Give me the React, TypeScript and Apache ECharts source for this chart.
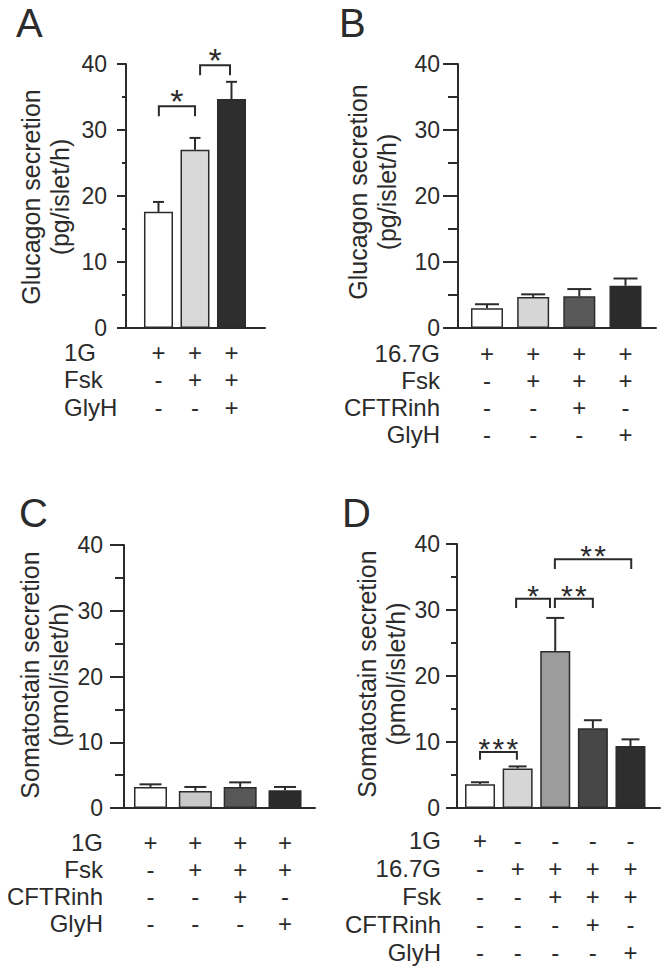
import React, { useEffect, useRef } from "react";
import * as echarts from "echarts";

const FONT = "'Liberation Sans', Arial, Helvetica, sans-serif";
const INK = "#2b2b2b";

// ---------- shared axis ----------
const yMin = 0;
const yMax = 40;
const yStep = 10;
const glucagonTitle = ["Glucagon secretion", "(pg/islet/h)"];
const somatostatinTitle = ["Somatostain secretion", "(pmol/islet/h)"];

// ---------- Panel A ----------
const aPositions = [1, 2, 3];
const aMeans = [17.6, 27.0, 34.7];
const aSems = [1.5, 1.8, 2.6];
const aColors = ["#ffffff", "#d9d9d9", "#2e2e2e"];
const aRowLabels = ["1G", "Fsk", "GlyH"];
const aTable = [
  ["+", "+", "+"],
  ["-", "+", "+"],
  ["-", "-", "+"],
];
const aBrackets = [
  [1.01, 2.0, 33.6, 32.1],
  [2.14, 2.96, 39.8, 38.3],
];
const aStars = ["*", "*"];

// ---------- Panel B ----------
const bPositions = [1, 2, 3, 4];
const bMeans = [3.0, 4.7, 4.8, 6.4];
const bSems = [0.6, 0.4, 1.1, 1.1];
const bColors = ["#ffffff", "#d6d6d6", "#595959", "#2b2b2b"];
const bRowLabels = ["16.7G", "Fsk", "CFTRinh", "GlyH"];
const bTable = [
  ["+", "+", "+", "+"],
  ["-", "+", "+", "+"],
  ["-", "-", "+", "-"],
  ["-", "-", "-", "+"],
];

// ---------- Panel C ----------
const cPositions = [1, 2, 3, 4];
const cMeans = [3.2, 2.6, 3.2, 2.7];
const cSems = [0.4, 0.6, 0.7, 0.5];
const cColors = ["#ffffff", "#c9c9c9", "#575757", "#2b2b2b"];
const cRowLabels = ["1G", "Fsk", "CFTRinh", "GlyH"];
const cTable = [
  ["+", "+", "+", "+"],
  ["-", "+", "+", "+"],
  ["-", "-", "+", "-"],
  ["-", "-", "-", "+"],
];

// ---------- Panel D ----------
const dPositions = [1, 2, 3, 4, 5];
const dMeans = [3.6, 6.0, 23.8, 12.1, 9.4];
const dSems = [0.3, 0.3, 5.0, 1.2, 1.0];
const dColors = ["#ffffff", "#d6d6d6", "#9c9c9c", "#474747", "#2e2e2e"];
const dRowLabels = ["1G", "16.7G", "Fsk", "CFTRinh", "GlyH"];
const dTable = [
  ["+", "-", "-", "-", "-"],
  ["-", "+", "+", "+", "+"],
  ["-", "-", "+", "+", "+"],
  ["-", "-", "-", "+", "-"],
  ["-", "-", "-", "-", "+"],
];
const dBrackets = [
  [1.0, 1.98, 8.5, 7.3],
  [1.96, 2.86, 31.7, 30.3],
  [2.99, 4.0, 31.7, 30.3],
  [2.99, 5.02, 37.7, 36.2],
];
const dStars = ["***", "*", "**", "**"];

const panels = [
  {
    letter: "A", letterX: 16, letterY: 23,
    left: 126, top: 64, width: 139, height: 264, xMin: 0.11, xMax: 3.918,
    barWidth: 29, capWidth: 11, tickLen: 9, minorLen: 4, labelMargin: 19,
    positions: aPositions, means: aMeans, sems: aSems, colors: aColors,
    rowLabels: aRowLabels, table: aTable, labelAlign: "left", labelX: 64, rowOffset: 24, rowGap: 27.5,
    brackets: aBrackets, stars: aStars, starGap: 15, starSize: 34, starPitch: 14,
    title: glucagonTitle, titleX: 45, titleY: 197,
  },
  {
    letter: "B", letterX: 339, letterY: 23,
    left: 458, top: 64, width: 198, height: 264, xMin: 0.372, xMax: 4.661,
    barWidth: 32, capWidth: 24, tickLen: 15, minorLen: 10, labelMargin: 18,
    positions: bPositions, means: bMeans, sems: bSems, colors: bColors,
    rowLabels: bRowLabels, table: bTable, labelAlign: "right", labelX: 440, rowOffset: 25, rowGap: 27,
    brackets: [] as number[][], stars: [] as string[], starGap: 0, starSize: 30, starPitch: 14,
    title: glucagonTitle, titleX: 372, titleY: 192,
  },
  {
    letter: "C", letterX: 19, letterY: 513,
    left: 124, top: 545, width: 191, height: 263, xMin: 0.409, xMax: 4.669,
    barWidth: 33, capWidth: 22, tickLen: 14, minorLen: 9, labelMargin: 21,
    positions: cPositions, means: cMeans, sems: cSems, colors: cColors,
    rowLabels: cRowLabels, table: cTable, labelAlign: "right", labelX: 103, rowOffset: 34, rowGap: 27.3,
    brackets: [] as number[][], stars: [] as string[], starGap: 0, starSize: 30, starPitch: 14,
    title: somatostatinTitle, titleX: 44, titleY: 675,
  },
  {
    letter: "D", letterX: 342, letterY: 513,
    left: 457, top: 544, width: 203, height: 264, xMin: 0.388, xMax: 5.785,
    barWidth: 30, capWidth: 18, tickLen: 11, minorLen: 6, labelMargin: 17,
    positions: dPositions, means: dMeans, sems: dSems, colors: dColors,
    rowLabels: dRowLabels, table: dTable, labelAlign: "right", labelX: 441, rowOffset: 32, rowGap: 28,
    brackets: dBrackets, stars: dStars, starGap: 12, starSize: 30, starPitch: 14,
    title: somatostatinTitle, titleX: 381, titleY: 674,
  },
];

function buildOption() {
  const grid: any[] = [];
  const xAxis: any[] = [];
  const yAxis: any[] = [];
  const series: any[] = [];
  const graphic: any[] = [];

  panels.forEach((p, i) => {
    grid.push({ left: p.left, top: p.top, width: p.width, height: p.height, containLabel: false });
    xAxis.push({
      type: "value", gridIndex: i, min: p.xMin, max: p.xMax,
      axisLine: { show: true, onZero: false, lineStyle: { color: INK, width: 2 } },
      axisTick: { show: false }, axisLabel: { show: false }, splitLine: { show: false },
    });
    yAxis.push({
      type: "value", gridIndex: i, min: yMin, max: yMax, interval: yStep,
      axisLine: { show: true, onZero: false, lineStyle: { color: INK, width: 2 } },
      axisTick: { show: true, length: p.tickLen, lineStyle: { color: INK, width: 2 } },
      minorTick: { show: true, splitNumber: 2, length: p.minorLen, lineStyle: { color: INK, width: 2 } },
      axisLabel: { color: INK, fontSize: 23, fontFamily: FONT, margin: p.labelMargin },
      splitLine: { show: false }, minorSplitLine: { show: false },
    });

    // bars
    series.push({
      type: "bar", xAxisIndex: i, yAxisIndex: i, barWidth: p.barWidth,
      itemStyle: { borderColor: INK, borderWidth: 1.5 },
      data: p.positions.map((x, j) => ({ value: [x, p.means[j]], itemStyle: { color: p.colors[j] } })),
      z: 2,
    });

    // error bars
    series.push({
      type: "custom", xAxisIndex: i, yAxisIndex: i, z: 3,
      encode: { x: 0, y: 1 },
      data: p.positions.map((x, j) => [x, p.means[j], p.sems[j]]),
      renderItem: (params: any, api: any) => {
        const x = api.value(0);
        const m = api.value(1);
        const e = api.value(2);
        const a = api.coord([x, m]);
        const b = api.coord([x, m + e]);
        const half = p.capWidth / 2;
        return {
          type: "group",
          children: [
            { type: "line", shape: { x1: a[0], y1: a[1], x2: b[0], y2: b[1] }, style: { stroke: INK, lineWidth: 2 } },
            { type: "line", shape: { x1: b[0] - half, y1: b[1], x2: b[0] + half, y2: b[1] }, style: { stroke: INK, lineWidth: 2 } },
          ],
        };
      },
    });

    // significance brackets
    if (p.brackets.length) {
      series.push({
        type: "custom", xAxisIndex: i, yAxisIndex: i, z: 4,
        encode: { x: [0, 1], y: [2, 3] },
        data: p.brackets,
        renderItem: (params: any, api: any) => {
          const x1 = api.value(0);
          const x2 = api.value(1);
          const top = api.value(2);
          const leg = api.value(3);
          const a = api.coord([x1, top]);
          const b = api.coord([x2, top]);
          const la = api.coord([x1, leg]);
          const label = p.stars[params.dataIndex] || "";
          const n = label.length;
          const fs = p.starSize;
          const mid = (a[0] + b[0]) / 2;
          const children: any[] = [
            {
              type: "polyline",
              shape: { points: [[a[0], la[1]], [a[0], a[1]], [b[0], b[1]], [b[0], la[1]]] },
              style: { stroke: INK, lineWidth: 2, fill: "none" },
            },
          ];
          for (let k = 0; k < n; k++) {
            children.push({
              type: "text",
              x: mid + (k - (n - 1) / 2) * p.starPitch,
              y: a[1] - p.starGap + 0.28 * fs,
              style: { text: "*", fontSize: fs, fontFamily: FONT, fill: INK, align: "center", verticalAlign: "middle" },
            });
          }
          return { type: "group", children };
        },
      });
    }

    // condition table symbols
    const tableData: number[][] = [];
    const tableSyms: string[] = [];
    p.table.forEach((row, r) => {
      row.forEach((sym, c) => {
        tableData.push([p.positions[c], r]);
        tableSyms.push(sym);
      });
    });
    series.push({
      type: "custom", xAxisIndex: i, yAxisIndex: i, z: 4,
      encode: { x: 0 },
      data: tableData,
      renderItem: (params: any, api: any) => {
        const x = api.value(0);
        const r = api.value(1);
        const c = api.coord([x, 0]);
        return {
          type: "text",
          x: c[0],
          y: c[1] + p.rowOffset + r * p.rowGap,
          style: {
            text: tableSyms[params.dataIndex], fontSize: 24, fontFamily: FONT, fill: INK,
            align: "center", verticalAlign: "middle",
          },
        };
      },
    });

    // row labels
    const base = p.top + p.height;
    p.rowLabels.forEach((lab, r) => {
      graphic.push({
        type: "text", x: p.labelX, y: base + p.rowOffset + r * p.rowGap,
        style: { text: lab, fontSize: 24, fontFamily: FONT, fill: INK, align: p.labelAlign, verticalAlign: "middle" },
      });
    });

    // y-axis title
    graphic.push({
      type: "text", x: p.titleX, y: p.titleY, rotation: Math.PI / 2,
      style: {
        text: p.title.join("\n"), fontSize: 25, lineHeight: 29, fontFamily: FONT, fill: INK,
        align: "center", verticalAlign: "middle",
      },
    });

    // panel letter
    graphic.push({
      type: "text", x: p.letterX, y: p.letterY,
      style: { text: p.letter, fontSize: 40, fontFamily: FONT, fill: INK, align: "left", verticalAlign: "middle" },
    });
  });

  return {
    animation: false,
    backgroundColor: "#ffffff",
    grid, xAxis, yAxis, series, graphic,
  };
}

export default function App() {
  const ref = useRef<HTMLDivElement>(null);
  useEffect(() => {
    if (!ref.current) return;
    const chart = echarts.init(ref.current, undefined, { renderer: "svg" });
    chart.setOption(buildOption() as any);
    return () => chart.dispose();
  }, []);
  return (
    <div
      ref={ref}
      style={{ position: "absolute", left: 0, top: 0, width: 666, height: 969, background: "#fff" }}
    />
  );
}
